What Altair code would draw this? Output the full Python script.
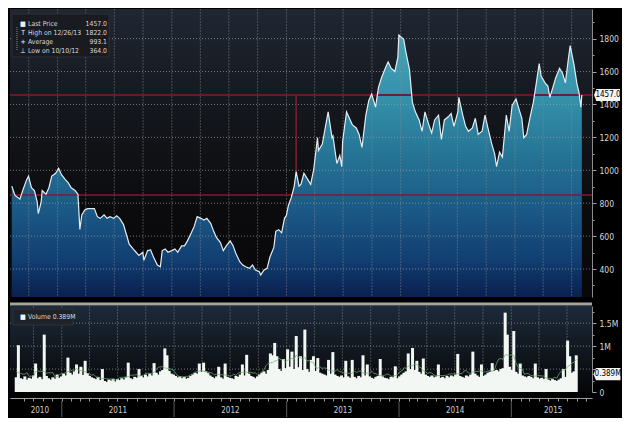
import altair as alt
import pandas as pd

FONT = "Liberation Sans Narrow, DejaVu Sans Condensed, Arial Narrow, Liberation Sans, sans-serif"

# ---------------- data ----------------
# price: decimal-year sample times and values
price_t = [
    2010.599, 2010.627, 2010.670, 2010.695, 2010.729, 2010.746, 2010.771, 2010.797, 2010.822, 2010.831,
    2010.856, 2010.865, 2010.899, 2010.924, 2010.949, 2010.983, 2011.009, 2011.034, 2011.068, 2011.094,
    2011.119, 2011.153, 2011.178, 2011.195, 2011.212, 2011.238, 2011.263, 2011.288, 2011.322, 2011.348,
    2011.373, 2011.407, 2011.433, 2011.458, 2011.492, 2011.517, 2011.543, 2011.577, 2011.602, 2011.627,
    2011.661, 2011.687, 2011.712, 2011.746, 2011.755, 2011.788, 2011.814, 2011.839, 2011.873, 2011.899,
    2011.916, 2011.941, 2011.966, 2012.000, 2012.026, 2012.051, 2012.085, 2012.110, 2012.136, 2012.170,
    2012.195, 2012.221, 2012.254, 2012.280, 2012.305, 2012.339, 2012.365, 2012.390, 2012.424, 2012.449,
    2012.475, 2012.509, 2012.534, 2012.560, 2012.594, 2012.619, 2012.644, 2012.678, 2012.704, 2012.729,
    2012.763, 2012.775, 2012.805, 2012.831, 2012.856, 2012.890, 2012.907, 2012.932, 2012.958, 2012.983,
    2013.000, 2013.017, 2013.043, 2013.068, 2013.085, 2013.110, 2013.127, 2013.153, 2013.187, 2013.212,
    2013.238, 2013.272, 2013.280, 2013.314, 2013.339, 2013.365, 2013.399, 2013.407, 2013.441, 2013.467,
    2013.484, 2013.492, 2013.526, 2013.551, 2013.577, 2013.611, 2013.636, 2013.661, 2013.695, 2013.721,
    2013.746, 2013.780, 2013.805, 2013.831, 2013.865, 2013.890, 2013.916, 2013.949, 2013.975, 2013.984,
    2014.026, 2014.043, 2014.077, 2014.102, 2014.128, 2014.161, 2014.187, 2014.212, 2014.246, 2014.271,
    2014.297, 2014.331, 2014.356, 2014.382, 2014.416, 2014.441, 2014.466, 2014.500, 2014.509, 2014.543,
    2014.568, 2014.593, 2014.627, 2014.653, 2014.678, 2014.712, 2014.738, 2014.763, 2014.797, 2014.822,
    2014.839, 2014.865, 2014.890, 2014.924, 2014.949, 2014.975, 2015.009, 2015.034, 2015.060, 2015.077,
    2015.102, 2015.136, 2015.161, 2015.187, 2015.212, 2015.229, 2015.263, 2015.288, 2015.305, 2015.331,
    2015.356, 2015.390, 2015.416, 2015.441, 2015.466, 2015.483, 2015.517, 2015.543, 2015.560, 2015.577,
    2015.585,
]
price_v = [
    904, 847, 825, 877, 943, 965, 894, 877, 806, 737,
    806, 877, 855, 894, 965, 982, 1012, 973, 943, 923,
    894, 877, 855, 641, 729, 759, 767, 767, 767, 718,
    708, 729, 708, 718, 708, 723, 708, 670, 610, 551,
    522, 502, 482, 502, 453, 512, 516, 473, 424, 414,
    512, 522, 502, 512, 522, 502, 541, 541, 571, 620,
    659, 718, 708, 698, 708, 678, 629, 590, 561, 512,
    541, 571, 541, 492, 443, 424, 414, 404, 424, 394,
    384, 364, 394, 404, 473, 531, 629, 639, 620, 708,
    727, 786, 835, 904, 992, 904, 914, 982, 943, 914,
    1002, 1198, 1120, 1159, 1257, 1355, 1198, 1208, 1041, 1090,
    1022, 1178, 1355, 1316, 1276, 1257, 1218, 1139, 1335, 1424,
    1463, 1384, 1502, 1561, 1620, 1659, 1620, 1600, 1688, 1822,
    1796, 1727, 1610, 1414, 1355, 1306, 1237, 1355, 1276, 1227,
    1306, 1335, 1188, 1306, 1325, 1345, 1267, 1355, 1443, 1335,
    1267, 1237, 1257, 1316, 1218, 1237, 1335, 1257, 1159, 1100,
    1022, 1110, 1080, 1335, 1237, 1394, 1433, 1375, 1316, 1198,
    1218, 1335, 1414, 1531, 1649, 1571, 1531, 1512, 1443, 1502,
    1561, 1620, 1590, 1531, 1669, 1757, 1639, 1522, 1473, 1384,
    1457,
]

# weekly volume, millions of shares
vol_first_week = "2010-08-06"
volume_m = [
    0.32, 1.02, 0.30, 0.28, 0.34, 0.27, 0.31, 0.29, 0.36, 0.62,
    0.30, 0.33, 0.28, 1.25, 0.35, 0.30, 0.27, 0.32, 0.29, 0.38,
    0.31, 0.34, 0.40, 0.36, 0.75, 0.42, 0.38, 0.45, 0.60, 0.40,
    0.55, 0.37, 0.68, 0.41, 0.35, 0.32, 0.30, 0.28, 0.33, 0.26,
    0.50, 0.24, 0.22, 0.27, 0.25, 0.29, 0.23, 0.28, 0.26, 0.30,
    0.27, 0.32, 0.64, 0.30, 0.28, 0.33, 0.31, 0.50, 0.35, 0.32,
    0.38, 0.34, 0.40, 0.36, 0.63, 0.42, 0.38, 0.45, 0.48, 0.95,
    0.80, 0.46, 0.40, 0.38, 0.35, 0.32, 0.34, 0.30, 0.33, 0.29,
    0.31, 0.35, 0.38, 0.42, 0.40, 0.62, 0.44, 0.64, 0.45, 0.41,
    0.36, 0.33, 0.30, 0.34, 0.55, 0.32, 0.29, 0.62, 0.33, 0.31,
    0.30, 0.28, 0.35, 0.33, 0.38, 0.60, 0.36, 0.81, 0.40, 0.35,
    0.33, 0.30, 0.34, 0.38, 0.42, 0.45, 0.40, 0.48, 0.84, 0.80,
    1.07, 0.78, 0.50, 0.46, 0.72, 0.52, 0.93, 0.55, 0.88, 0.50,
    1.22, 0.54, 0.78, 0.48, 1.36, 0.50, 0.44, 0.70, 0.78, 0.46,
    0.74, 0.42, 0.40, 0.38, 0.36, 0.70, 0.40, 0.87, 0.38, 0.35,
    0.33, 0.36, 0.32, 0.68, 0.34, 0.31, 0.70, 0.33, 0.30, 0.35,
    0.32, 0.80, 0.36, 0.60, 0.34, 0.31, 0.29, 0.33, 0.35, 0.72,
    0.34, 0.31, 0.30, 0.28, 0.33, 0.32, 0.56, 0.30, 0.34, 0.38,
    0.42, 0.45, 0.84, 0.50, 0.96, 0.48, 0.68, 0.44, 0.40, 0.73,
    0.38, 0.35, 0.33, 0.36, 0.32, 0.34, 0.60, 0.31, 0.33, 0.30,
    0.35, 0.32, 0.36, 0.34, 0.38, 0.83, 0.35, 0.33, 0.31, 0.36,
    0.34, 0.38, 0.88, 0.40, 0.36, 0.33, 0.60, 0.35, 0.38, 0.42,
    0.44, 0.63, 0.46, 0.48, 0.45, 0.50, 0.52, 1.73, 1.25, 0.55,
    0.48, 1.33, 0.44, 0.40, 0.62, 0.36, 0.34, 0.32, 0.35, 0.33,
    0.30, 0.62, 0.32, 0.29, 0.31, 0.28, 0.50, 0.27, 0.25, 0.28,
    0.26, 0.24, 0.27, 0.30, 0.50, 0.33, 1.12, 0.78, 0.42, 0.45,
    0.80,
]

last_price = 1457.0
lower_line = 850
cross_t = 2013.085
cross_low = 985
last_volume = 0.389

legend_icons = ["\u25a0", "T", "+", "\u22a5"]
legend_labels = ["Last Price", "High on 12/26/13", "Average", "Low on 10/10/12"]
legend_values = ["1457.0", "1822.0", "993.1", "364.0"]
volume_legend = "Volume 0.389M"
last_price_text = "1457.0"
last_volume_text = "0.389M"

year_labels = ["2010", "2011", "2012", "2013", "2014", "2015"]
year_label_t = [2010.805, 2011.5, 2012.5, 2013.5, 2014.5, 2015.373]
year_bounds = [2011, 2012, 2013, 2014, 2015]

price_ticks = list(range(300, 2000, 100))
price_grid = list(range(400, 1900, 200))
vol_ticks = [0, 0.25, 0.5, 0.75, 1.0, 1.25, 1.5, 1.75]
vol_grid = [0.5, 1.0, 1.5]

# ---------------- layout ----------------
W, H1, H2 = 582, 288, 86
Y_MIN, Y_MAX = 230, 1980


def dec2date(t):
    y = int(t)
    a = pd.Timestamp(year=y, month=1, day=1)
    b = pd.Timestamp(year=y + 1, month=1, day=1)
    return (a + (t - y) * (b - a)).round("min")


price_df = pd.DataFrame({"date": [dec2date(t) for t in price_t], "price": price_v})
price_df["base"] = Y_MIN
vol_df = pd.DataFrame({
    "date": pd.date_range(vol_first_week, periods=len(volume_m), freq="7D"),
    "vol": volume_m,
})
quarters = pd.DataFrame({"date": pd.date_range("2010-10-01", "2015-07-01", freq="QS")})
months = pd.date_range("2010-09-01", "2015-09-01", freq="MS")
one = pd.DataFrame({"k": [0]})

xs = alt.Scale(domain=[alt.DateTime(year=2010, month=8, date=2),
                       alt.DateTime(year=2015, month=9, date=4)])
ys = alt.Scale(domain=[Y_MIN, Y_MAX], nice=False, zero=False)
yv = alt.Scale(domain=[0, 1.875], nice=False)

price_axis = alt.Axis(
    orient="right", values=price_ticks, format="d", title=None, grid=False,
    labelExpr="(datum.value % 200 == 0 && datum.value >= 400 && datum.value <= 1800) ? datum.label : ''",
    tickSize={"condition": {"test": "datum.value % 200 == 0", "value": 4}, "value": 2},
    domainColor="#8c8c8c", tickColor="#a0a0a0", labelColor="#d6d6d6",
    labelFont=FONT, labelFontSize=8.5, labelPadding=3,
)
vol_axis = alt.Axis(
    orient="right", values=vol_ticks, title=None, grid=False,
    labelExpr="datum.value == 0 ? '0' : (datum.value == 1 || datum.value == 1.5) ? format(datum.value, '') + 'M' : ''",
    tickSize={"condition": {"test": "datum.value % 0.5 == 0", "value": 4}, "value": 2},
    domainColor="#8c8c8c", tickColor="#a0a0a0", labelColor="#d6d6d6",
    labelFont=FONT, labelFontSize=8.5, labelPadding=3,
)
bottom_axis = alt.Axis(
    values=[alt.DateTime(year=d.year, month=d.month, date=1) for d in months],
    labels=False, title=None, grid=False, tickSize=3, offset=6,
    tickColor="#a0a0a0", domainColor="#a0a0a0",
)


def XT():
    return alt.X("date:T", scale=xs, axis=None)


def XB():
    return alt.X("date:T", scale=xs, axis=bottom_axis)


def YP(f="price"):
    return alt.Y(f"{f}:Q", scale=ys, axis=price_axis)


def YV(f="vol"):
    return alt.Y(f"{f}:Q", scale=yv, axis=vol_axis)


bg_top = alt.LinearGradient(gradient="linear", x1=0, x2=0, y1=0, y2=1, stops=[
    alt.GradientStop(offset=0, color="#1f2733"),
    alt.GradientStop(offset=0.35, color="#14171d"),
    alt.GradientStop(offset=0.7, color="#0b0b0d"),
    alt.GradientStop(offset=1, color="#08080a"),
])
area_grad = alt.LinearGradient(gradient="linear", x1=0, x2=0, y1=0, y2=1, stops=[
    alt.GradientStop(offset=0, color="#44a6ba"),
    alt.GradientStop(offset=0.25, color="#3390a9"),
    alt.GradientStop(offset=0.45, color="#267596"),
    alt.GradientStop(offset=0.65, color="#1b5b87"),
    alt.GradientStop(offset=0.85, color="#124073"),
    alt.GradientStop(offset=1, color="#0a1f4f"),
])
bg_vol = alt.LinearGradient(gradient="linear", x1=0, x2=0, y1=0, y2=1, stops=[
    alt.GradientStop(offset=0, color="#1c2a3a"),
    alt.GradientStop(offset=0.5, color="#111820"),
    alt.GradientStop(offset=1, color="#050608"),
])

tag_shape = "M-1,0L-0.82,-0.46H1V0.46H-0.82Z"
LFS = 6.8

# ---------------- top panel ----------------
top_layers = [
    alt.Chart(one).mark_rect(color=bg_top).encode(
        x=alt.value(0), x2=alt.value(W), y=alt.value(0), y2=alt.value(H1)),
    alt.Chart(price_df).mark_area(color=area_grad, clip=True).encode(
        x=XT(), y=YP(), y2=alt.Y2("base:Q")),
    alt.Chart(quarters).mark_rule(color="#8a8a8a", opacity=0.45, strokeDash=[2, 1], strokeWidth=1).encode(
        x=XT(), y=alt.value(0), y2=alt.value(H1)),
    alt.Chart(pd.DataFrame({"price": price_grid})).mark_rule(
        color="#9a9a9a", opacity=0.75, strokeDash=[1, 2], strokeWidth=1).encode(
        y=YP(), x=alt.value(0), x2=alt.value(W)),
    alt.Chart(pd.DataFrame({"price": [lower_line]})).mark_rule(
        color="#7a1c34", opacity=0.75, strokeWidth=2).encode(y=YP(), x=alt.value(0), x2=alt.value(W)),
    alt.Chart(pd.DataFrame({"price": [last_price]})).mark_rule(
        color="#6e1a2a", opacity=0.95, strokeWidth=2).encode(y=YP(), x=alt.value(0), x2=alt.value(W)),
    alt.Chart(pd.DataFrame({"date": [dec2date(cross_t)], "price": [last_price], "price2": [cross_low]})).mark_rule(
        color="#8a2030", opacity=0.9, strokeWidth=1.5).encode(x=XT(), y=YP(), y2="price2:Q"),
    alt.Chart(price_df).mark_line(color="#e4ecf0", strokeWidth=1.2, clip=True).encode(x=XT(), y=YP()),
    # legend box
    alt.Chart(one).mark_rect(color="#1a1b20", stroke="#2c2f36", strokeWidth=1).encode(
        x=alt.value(2), x2=alt.value(99), y=alt.value(5), y2=alt.value(48)),
    alt.Chart(one).mark_rule(color="#8a8a8a", strokeDash=[1, 1]).encode(
        x=alt.value(7), y=alt.value(18), y2=alt.value(42)),
    # last price tag
    alt.Chart(pd.DataFrame({"price": [last_price]})).mark_point(
        shape=tag_shape, filled=True, color="#f4f4f4", opacity=1, size=676).encode(
        x=alt.value(W + 15), y=YP()),
    alt.Chart(pd.DataFrame({"price": [last_price]})).mark_text(
        text=last_price_text, font=FONT, fontSize=8, color="#000000", align="center", baseline="middle").encode(
        x=alt.value(W + 16), y=YP()),
]
rows_y = [14.5, 24, 33, 42]
for icon, lab, val, ry in zip(legend_icons, legend_labels, legend_values, rows_y):
    top_layers.append(alt.Chart(one).mark_text(
        text=icon, font=FONT, fontSize=LFS, color="#f0f0f0", align="center", baseline="middle").encode(
        x=alt.value(13), y=alt.value(ry)))
    top_layers.append(alt.Chart(one).mark_text(
        text=lab, font=FONT, fontSize=LFS, color="#d8d8d8", align="left", baseline="middle").encode(
        x=alt.value(18), y=alt.value(ry)))
    top_layers.append(alt.Chart(one).mark_text(
        text=val, font=FONT, fontSize=LFS, color="#d8d8d8", align="right", baseline="middle").encode(
        x=alt.value(97), y=alt.value(ry)))

top = alt.layer(*top_layers).properties(width=W, height=H1)

# ---------------- volume panel ----------------
vol_layers = [
    alt.Chart(one).mark_rect(color=bg_vol).encode(
        x=alt.value(0), x2=alt.value(W), y=alt.value(0), y2=alt.value(H2)),
    alt.Chart(quarters).mark_rule(color="#8a8a8a", opacity=0.45, strokeDash=[2, 1], strokeWidth=1).encode(
        x=XB(), y=alt.value(0), y2=alt.value(H2)),
    alt.Chart(pd.DataFrame({"vol": vol_grid})).mark_rule(
        color="#9a9a9a", opacity=0.75, strokeDash=[1, 2], strokeWidth=1).encode(
        y=YV(), x=alt.value(0), x2=alt.value(W)),
    alt.Chart(vol_df).mark_bar(width=3, color="#f3f7f3").encode(x=XB(), y=YV()),
    alt.Chart(vol_df).transform_window(ma="mean(vol)", frame=[-4, 4]).mark_line(
        color="#6fb06f", strokeWidth=1, opacity=0.75).encode(x=XB(), y=YV("ma")),
    alt.Chart(one).mark_rule(color="#a4a4a4", strokeWidth=3).encode(
        x=alt.value(0), x2=alt.value(W), y=alt.value(-2)),
    alt.Chart(one).mark_rect(color="#1e232a", stroke="#2c3038", strokeWidth=1).encode(
        x=alt.value(3), x2=alt.value(63), y=alt.value(3), y2=alt.value(19)),
    alt.Chart(one).mark_text(text="\u25a0", font=FONT, fontSize=LFS, color="#f4f4f4",
                             align="center", baseline="middle").encode(x=alt.value(13), y=alt.value(11)),
    alt.Chart(one).mark_text(text=volume_legend, font=FONT, fontSize=LFS, color="#d8d8d8",
                             align="left", baseline="middle").encode(x=alt.value(18), y=alt.value(11)),
    alt.Chart(pd.DataFrame({"vol": [last_volume]})).mark_point(
        shape=tag_shape, filled=True, color="#f4f4f4", opacity=1, size=729).encode(
        x=alt.value(W + 15), y=YV()),
    alt.Chart(pd.DataFrame({"vol": [last_volume]})).mark_text(
        text=last_volume_text, font=FONT, fontSize=8, color="#000000", align="center", baseline="middle").encode(
        x=alt.value(W + 16), y=YV()),
    alt.Chart(pd.DataFrame({"date": [dec2date(y) for y in year_bounds]})).mark_rule(
        color="#5a5a5a", strokeWidth=1).encode(x=XB(), y=alt.value(H2 + 9), y2=alt.value(H2 + 25)),
    alt.Chart(pd.DataFrame({"date": [dec2date(t) for t in year_label_t], "label": year_labels})).mark_text(
        font=FONT, fontSize=8, color="#cfcfcf", align="center", baseline="middle").encode(
        x=XB(), y=alt.value(H2 + 19), text="label:N"),
]
vol = alt.layer(*vol_layers).properties(width=W, height=H2)

chart = alt.vconcat(top, vol, spacing=4).properties(
    background="#000000", padding=0
).configure_view(stroke=None)

chart.save("out.html", embed_options={"renderer": "svg", "actions": False})
